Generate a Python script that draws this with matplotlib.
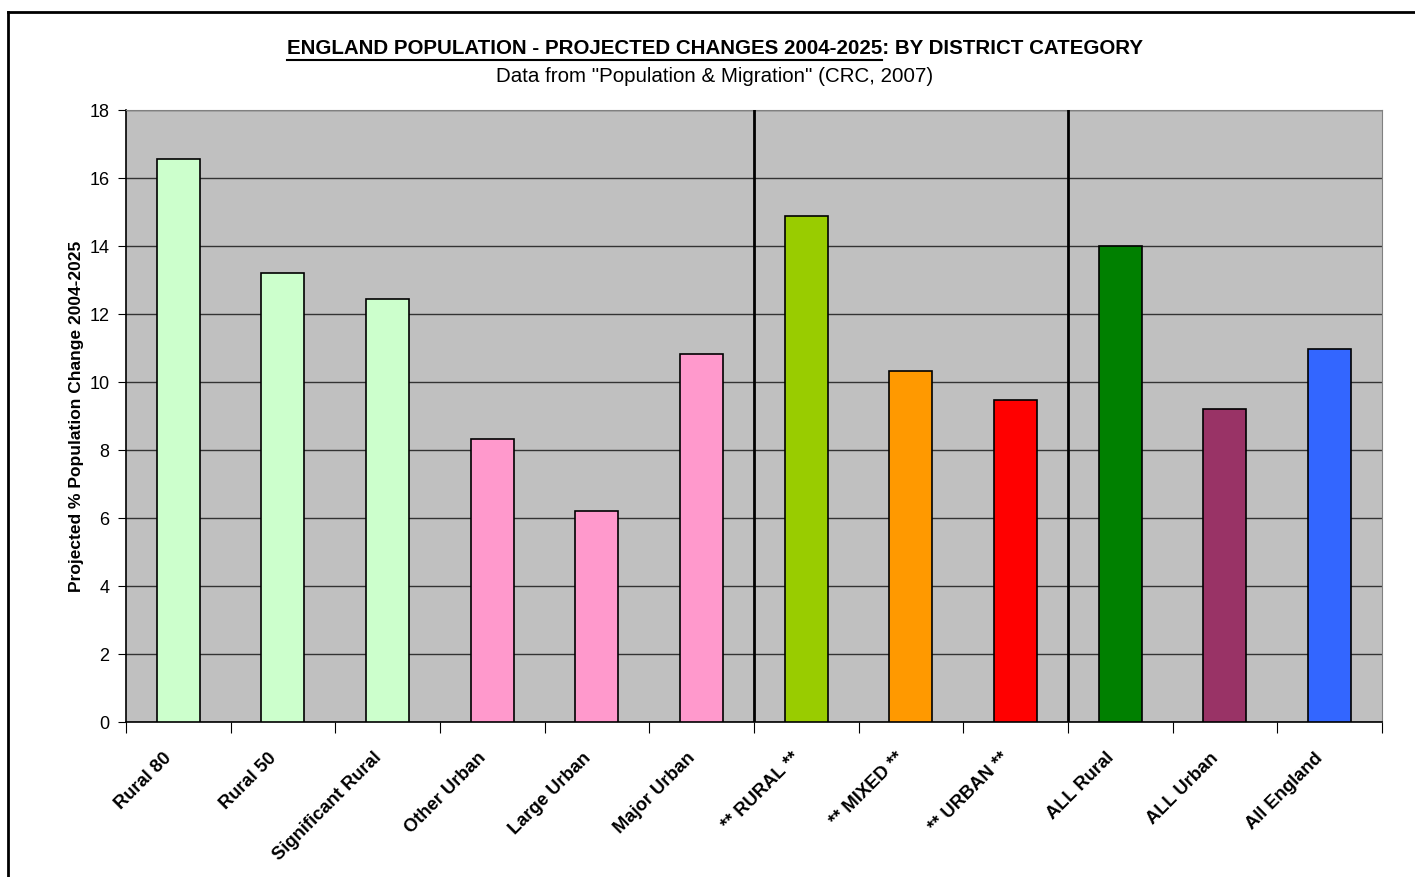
import matplotlib.pyplot as plt
import matplotlib.transforms as mtransforms
from matplotlib.lines import Line2D

# data
categories = ['Rural 80', 'Rural 50', 'Significant Rural', 'Other Urban',
              'Large Urban', 'Major Urban', '** RURAL **', '** MIXED **',
              '** URBAN **', 'ALL Rural', 'ALL Urban', 'All England']
values = [16.55, 13.2, 12.45, 8.32, 6.2, 10.82, 14.88, 10.32, 9.47, 14.0, 9.22, 10.97]
bar_colors = ['#CCFFCC', '#CCFFCC', '#CCFFCC', '#FF99CC', '#FF99CC', '#FF99CC',
              '#99CC00', '#FF9900', '#FF0000', '#008000', '#993366', '#3366FF']
group_breaks = [6.5, 9.5]
y_ticks = [0, 2, 4, 6, 8, 10, 12, 14, 16, 18]

plt.rcParams['font.family'] = ['Liberation Sans', 'DejaVu Sans']

fig = plt.figure(figsize=(14.15, 8.77), dpi=100)
ax = fig.add_axes([0.089, 0.1767, 0.8876, 0.6978])
ax.set_facecolor('#C0C0C0')

x = list(range(1, len(categories) + 1))
ax.set_axisbelow(True)
ax.yaxis.grid(True, color='#333333', linewidth=1)
ax.bar(x, values, width=0.41, color=bar_colors, edgecolor='black', linewidth=1.2, zorder=3)

for b in group_breaks:
    ax.axvline(b, color='black', linewidth=2, zorder=4)

ax.set_xlim(0.5, len(categories) + 0.5)
ax.set_ylim(0, 18)
ax.set_yticks(y_ticks)
ax.tick_params(axis='y', labelsize=13, length=6, direction='out', pad=6)

# ticks at category boundaries, labels at centres
ax.set_xticks([i + 0.5 for i in range(len(categories) + 1)])
ax.set_xticklabels([])
ax.tick_params(axis='x', which='major', length=8, direction='out')
ax.set_xticks(x, minor=True)
ax.set_xticklabels(categories, minor=True, rotation=45, ha='right', va='center',
                   rotation_mode='anchor', fontsize=13.2, fontweight='bold')
ax.tick_params(axis='x', which='minor', length=0, pad=24)
shift = mtransforms.ScaledTranslation(-9 / 100, 0, fig.dpi_scale_trans)
for lbl in ax.get_xticklabels(minor=True):
    lbl.set_transform(lbl.get_transform() + shift)

for s in ['top', 'right']:
    ax.spines[s].set_color('#808080')
ax.spines['left'].set_linewidth(1.2)
ax.spines['bottom'].set_linewidth(1.2)

ax.set_ylabel('Projected % Population Change 2004-2025', fontsize=12.5,
              fontweight='bold', labelpad=4)

# title, with the first part underlined
title_main = 'ENGLAND POPULATION - PROJECTED CHANGES 2004-2025'
title_rest = ': BY DISTRICT CATEGORY'
t = fig.text(0.505, 1 - 49 / 877, title_main + title_rest, ha='center', va='center',
             fontsize=14.8, fontweight='bold')
fig.text(0.505, 1 - 76 / 877, 'Data from "Population & Migration" (CRC, 2007)',
         ha='center', va='center', fontsize=14.8)

fig.canvas.draw()
r = fig.canvas.get_renderer()
full_bb = t.get_window_extent(r)
tmp = fig.text(0, 0, title_main, fontsize=14.8, fontweight='bold')
part_w = tmp.get_window_extent(r).width
tmp.remove()
W, H = fig.get_size_inches() * fig.dpi
uy = (full_bb.y0 - 1) / H
fig.add_artist(Line2D([full_bb.x0 / W, (full_bb.x0 + part_w) / W], [uy, uy],
                      color='black', linewidth=1.5))

# outer frame (left and top edges visible)
fig.add_artist(Line2D([8 / W, 8 / W], [0, 1 - 12 / H], color='black', linewidth=2))
fig.add_artist(Line2D([8 / W, 1], [1 - 12 / H, 1 - 12 / H], color='black', linewidth=2))

fig.savefig('out.png', dpi=100)
